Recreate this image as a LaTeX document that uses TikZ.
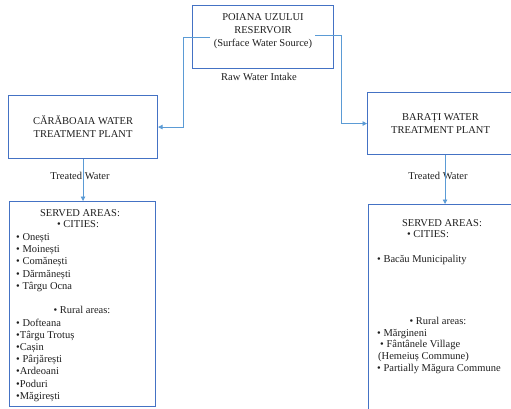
\documentclass[tikz,border=0pt]{standalone}
\usepackage{fontspec}
\setmainfont{Liberation Serif}
\usetikzlibrary{arrows.meta}
\definecolor{boxblue}{HTML}{4472C4}
\definecolor{linkblue}{HTML}{5B9BD5}
\definecolor{txt}{HTML}{1E1E1E}
\begin{document}
\begin{tikzpicture}[x=1pt,y=-1pt,
  box/.style={draw=boxblue, line width=1.1pt, inner sep=0pt, text=txt, align=center, font=\fontsize{10.5}{13}\selectfont},
  link/.style={draw=linkblue, line width=0.8pt, -{Triangle[length=4.5pt,width=4.5pt]}},
  lbl/.style={text=txt, font=\fontsize{10.5}{13}\selectfont, inner sep=0pt},
  item/.style={lbl, anchor=base west},
  head/.style={lbl, anchor=base}]
\useasboundingbox (0,0) rectangle (511,409);
\clip (0,0) rectangle (511,409);

% boxes
\node[box, minimum width=141pt, minimum height=63pt, anchor=north west] (res) at (192,5) {};
\node[lbl, align=center] (restxt) at (263,31) {POIANA UZULUI\\RESERVOIR\\(Surface Water Source)};
\node[lbl] (raw) at (259,77) {Raw Water Intake};

\node[box, minimum width=149pt, minimum height=63pt, anchor=north west] (car) at (8,95) {CĂRĂBOAIA WATER\\TREATMENT PLANT};
\node[box, minimum width=146pt, minimum height=62pt, anchor=north west] (bar) at (367,92) {BARAȚI WATER\\TREATMENT PLANT};

\node[box, minimum width=146pt, minimum height=205pt, anchor=north west] (s1) at (9,201) {};
\node[box, minimum width=150pt, minimum height=215pt, anchor=north west] (s2) at (368,204) {};

% connectors
\coordinate (resL) at (210,37);
\coordinate (resR) at (315,35);
\draw[link] (resL) -- (183,37) |- (car.east);
\draw[link] (resR) -- (341,35) |- (bar.west);

\node[lbl] (tw1) at (80,176) {Treated Water};
\node[lbl] (tw2) at (438,176) {Treated Water};
\draw[link] (car.south) -- (car.south |- s1.north);
\coordinate (bs) at ([xshift=4.5pt]bar.south);
\draw[link] (bs) -- (bs |- s2.north);

% left served areas
\node[head] (h1) at (80,216.5) {SERVED AREAS:};
\node[head] (c1) at (78,227.5) {• CITIES:};
\foreach \t [count=\i from 0] in {• Onești,• Moinești,• Comănești,• Dărmănești,• Târgu Ocna}
  \node[item] (lc\i) at (16,240.5+12.2*\i) {\t};
\node[head] (r1) at (82,313.5) {• Rural areas:};
\foreach \t [count=\i from 0] in {• Dofteana,•Târgu Trotuș,•Cașin,• Pârjărești,•Ardeoani,•Poduri,•Măgirești}
  \node[item] (lr\i) at (16,326.5+12.1*\i) {\t};

% right served areas
\node[head] (h2) at (442,226) {SERVED AREAS:};
\node[head] (c2) at (428,237) {• CITIES:};
\node[item] (rc0) at (377,262) {• Bacău Municipality};
\node[head] (r2) at (438,324.5) {• Rural areas:};
\node[item] (rr0) at (377,336.5) {• Mărgineni};
\node[item] (rr1) at (380,347.5) {• Fântânele Village};
\node[item] (rr2) at (378,359.5) {(Hemeiuș Commune)};
\node[item] (rr3) at (377,371.5) {• Partially Măgura Commune};
\end{tikzpicture}
\end{document}
